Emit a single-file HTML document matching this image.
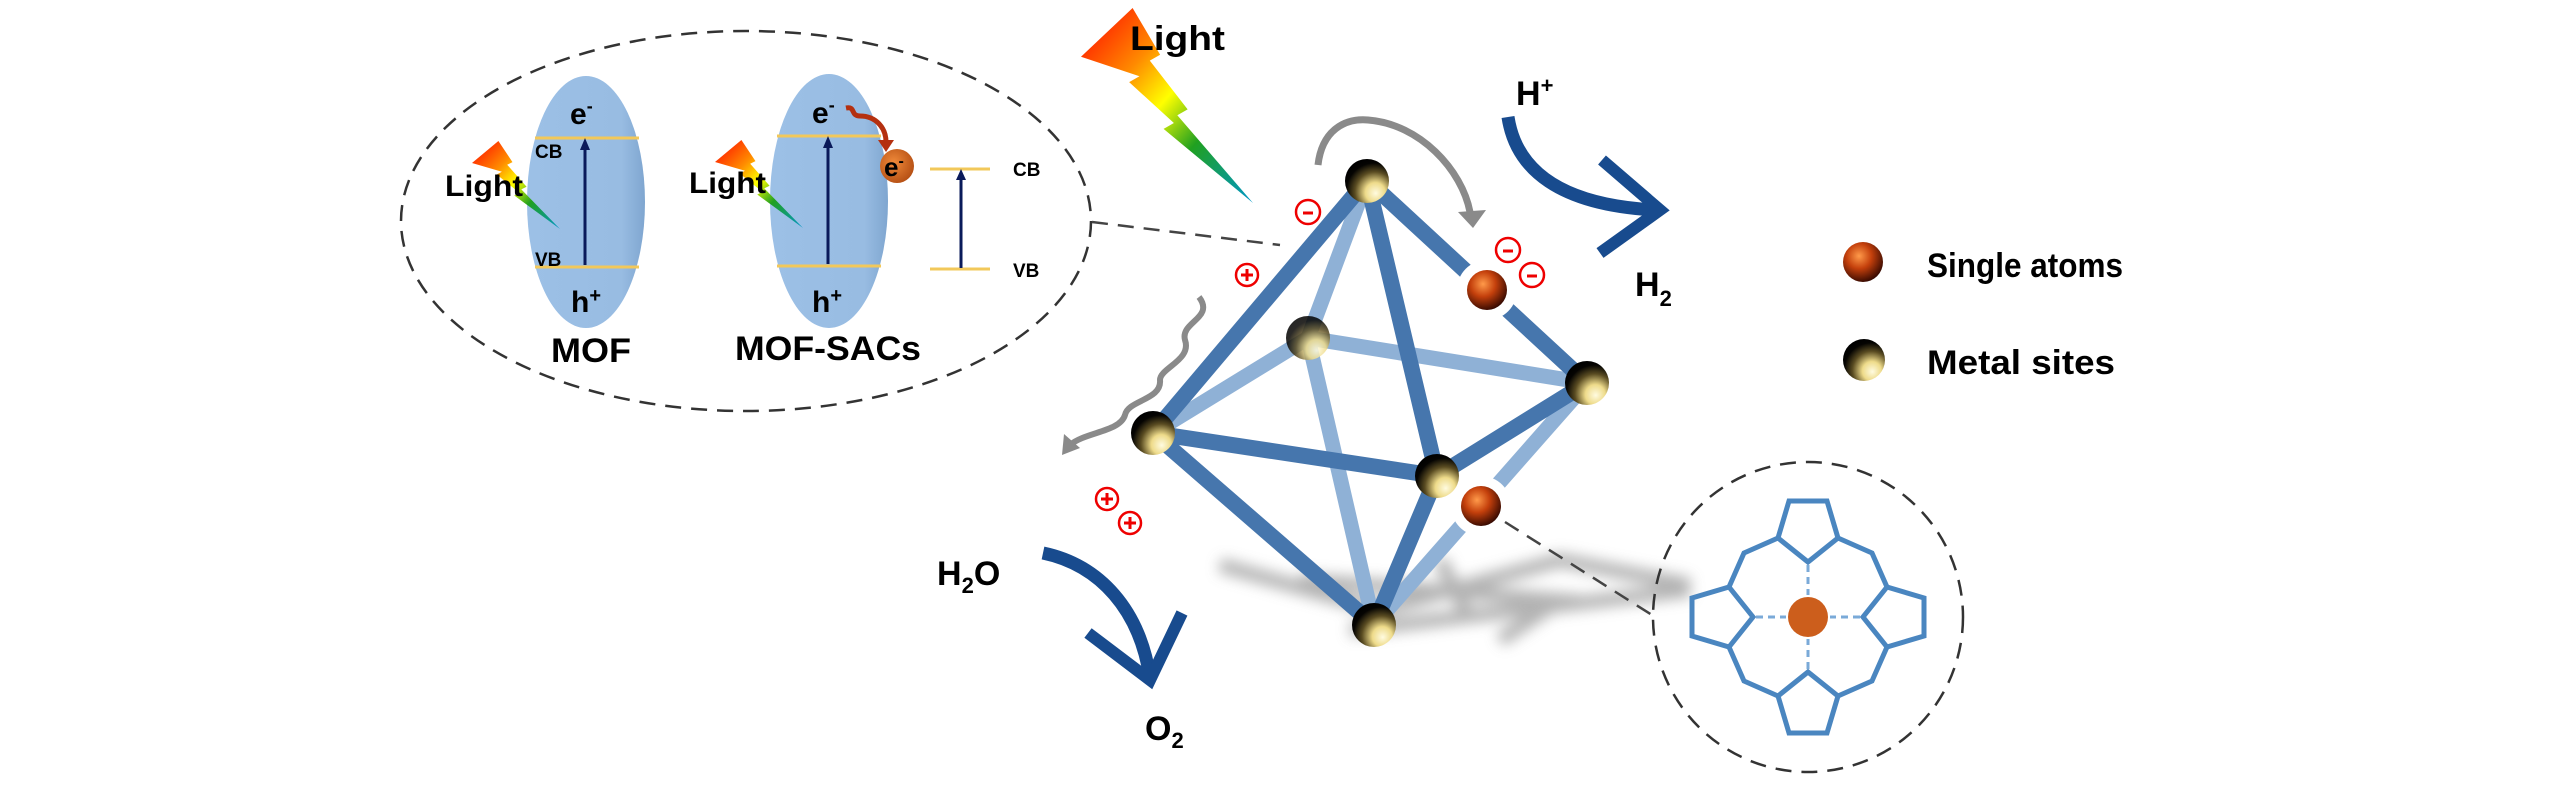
<!DOCTYPE html>
<html><head><meta charset="utf-8">
<style>
html,body{margin:0;padding:0;background:#fff;}
svg{display:block;}
text{font-family:"Liberation Sans",Arial,sans-serif;font-weight:bold;fill:#000;}
</style></head>
<body>
<svg width="2567" height="787" viewBox="0 0 2567 787" xmlns="http://www.w3.org/2000/svg">
<defs>
  <radialGradient id="gold" cx="0.66" cy="0.72" r="0.75" fx="0.7" fy="0.78">
    <stop offset="0" stop-color="#fffbe0"/>
    <stop offset="0.3" stop-color="#eedb8a"/>
    <stop offset="0.6" stop-color="#5a4c22"/>
    <stop offset="0.85" stop-color="#050402"/>
    <stop offset="1" stop-color="#000"/>
  </radialGradient>
  <radialGradient id="sa" cx="0.4" cy="0.35" r="0.7">
    <stop offset="0" stop-color="#ff9a4a"/>
    <stop offset="0.45" stop-color="#c4400c"/>
    <stop offset="1" stop-color="#2a0500"/>
  </radialGradient>
  <radialGradient id="eball" cx="0.4" cy="0.4" r="0.7">
    <stop offset="0" stop-color="#f08a3a"/>
    <stop offset="1" stop-color="#b04a10"/>
  </radialGradient>
  <linearGradient id="bolt" x1="0" y1="0" x2="1" y2="1">
    <stop offset="0" stop-color="#ff0000"/>
    <stop offset="0.3" stop-color="#ff8a00"/>
    <stop offset="0.48" stop-color="#ffff00"/>
    <stop offset="0.68" stop-color="#20a020"/>
    <stop offset="1" stop-color="#0096c8"/>
  </linearGradient>
  <linearGradient id="oval" x1="0" y1="0" x2="1" y2="0">
    <stop offset="0" stop-color="#9cc0e6"/>
    <stop offset="0.8" stop-color="#98bce2"/>
    <stop offset="1" stop-color="#7fa6d0"/>
  </linearGradient>
  <filter id="blur" x="-20%" y="-50%" width="140%" height="200%"><feGaussianBlur stdDeviation="7"/></filter>
  <symbol id="boltS" viewBox="0 0 100 100" preserveAspectRatio="none">
    <polygon points="0,25 30,0 46,24 40,27 62,52 56,55 100,100 48,62 54,59 28,38 34,35" fill="url(#bolt)"/>
  </symbol>
</defs>

<ellipse cx="746" cy="221" rx="345" ry="190" fill="none" stroke="#333" stroke-width="2.5" stroke-dasharray="16,10"/>
<line x1="1092" y1="222" x2="1280" y2="245" stroke="#444" stroke-width="2.5" stroke-dasharray="16,10"/>

<!-- MOF -->
<ellipse cx="586" cy="202" rx="59" ry="126" fill="url(#oval)"/>
<line x1="535" y1="138" x2="639" y2="138" stroke="#f2c85a" stroke-width="3"/>
<line x1="535" y1="267" x2="639" y2="267" stroke="#f2c85a" stroke-width="3"/>
<line x1="585" y1="265" x2="585" y2="148" stroke="#0a1a5a" stroke-width="3"/>
<polygon points="585,138 580,150 590,150" fill="#0a1a5a"/>
<text x="570" y="124" font-size="30">e<tspan font-size="18" dy="-12">-</tspan></text>
<text x="571" y="312" font-size="30">h<tspan font-size="20" dy="-10">+</tspan></text>
<text x="535" y="158" font-size="19">CB</text>
<text x="535" y="266" font-size="19">VB</text>
<use href="#boltS" x="472" y="141" width="88" height="88"/>
<text x="445" y="196" font-size="30" textLength="78" lengthAdjust="spacingAndGlyphs">Light</text>
<text x="551" y="362" font-size="34" textLength="80" lengthAdjust="spacingAndGlyphs">MOF</text>

<!-- MOF-SACs -->
<ellipse cx="829" cy="201" rx="59" ry="127" fill="url(#oval)"/>
<line x1="777" y1="136" x2="881" y2="136" stroke="#f2c85a" stroke-width="3"/>
<line x1="777" y1="266" x2="881" y2="266" stroke="#f2c85a" stroke-width="3"/>
<line x1="828" y1="264" x2="828" y2="146" stroke="#0a1a5a" stroke-width="3"/>
<polygon points="828,136 823,148 833,148" fill="#0a1a5a"/>
<text x="812" y="123" font-size="30">e<tspan font-size="18" dy="-12">-</tspan></text>
<text x="812" y="312" font-size="30">h<tspan font-size="20" dy="-10">+</tspan></text>
<path d="M846,108 C856,106 850,116 860,116 C876,116 886,128 886,142" fill="none" stroke="#b43010" stroke-width="5"/>
<polygon points="878,140 894,140 886,152" fill="#b43010"/>
<circle cx="897" cy="166" r="17" fill="url(#eball)"/>
<text x="884" y="176" font-size="26">e<tspan font-size="16" dy="-10">-</tspan></text>
<line x1="930" y1="169" x2="990" y2="169" stroke="#f2c85a" stroke-width="3"/>
<line x1="930" y1="269" x2="990" y2="269" stroke="#f2c85a" stroke-width="3"/>
<line x1="961" y1="268" x2="961" y2="178" stroke="#0a1a5a" stroke-width="3"/>
<polygon points="961,169 956,180 966,180" fill="#0a1a5a"/>
<text x="1013" y="176" font-size="19">CB</text>
<text x="1013" y="277" font-size="19">VB</text>
<use href="#boltS" x="715" y="140" width="88" height="88"/>
<text x="689" y="193" font-size="30" textLength="77" lengthAdjust="spacingAndGlyphs">Light</text>
<text x="735" y="360" font-size="34" textLength="186" lengthAdjust="spacingAndGlyphs">MOF-SACs</text>

<use href="#boltS" x="1081" y="8" width="172" height="195"/>
<text x="1130" y="50" font-size="34" textLength="95" lengthAdjust="spacingAndGlyphs">Light</text>

<g filter="url(#blur)" stroke="#9a9a9a" stroke-width="14" opacity="0.75" fill="none">
  <path d="M1220,565 L1380,610 L1560,560 L1690,585"/>
  <path d="M1300,580 L1560,600 L1500,640"/>
  <path d="M1350,630 L1690,590"/>
  <path d="M1440,560 L1470,620"/>
</g>

<g stroke="#8fb1d6" stroke-width="15" stroke-linecap="round">
  <line x1="1367" y1="180" x2="1308" y2="338"/>
  <line x1="1308" y1="338" x2="1153" y2="433"/>
  <line x1="1308" y1="338" x2="1587" y2="383"/>
  <line x1="1308" y1="338" x2="1374" y2="625"/>
  <line x1="1587" y1="383" x2="1374" y2="625"/>
</g>
<circle cx="1308" cy="338" r="22" fill="url(#gold)" opacity="0.85"/>
<g stroke="#4676ad" stroke-width="16" stroke-linecap="round">
  <line x1="1367" y1="180" x2="1153" y2="433"/>
  <line x1="1367" y1="180" x2="1437" y2="476"/>
  <line x1="1153" y1="433" x2="1437" y2="476"/>
  <line x1="1437" y1="476" x2="1587" y2="383"/>
  <line x1="1153" y1="433" x2="1374" y2="625"/>
  <line x1="1437" y1="476" x2="1374" y2="625"/>
  <line x1="1367" y1="180" x2="1587" y2="383"/>
</g>
<circle cx="1487" cy="290" r="30" fill="#fff"/>
<circle cx="1481" cy="506" r="30" fill="#fff"/>
<circle cx="1487" cy="290" r="20" fill="url(#sa)"/>
<circle cx="1481" cy="506" r="20" fill="url(#sa)"/>
<g>
  <circle cx="1367" cy="181" r="22" fill="url(#gold)"/>
  <circle cx="1153" cy="433" r="22" fill="url(#gold)"/>
  <circle cx="1587" cy="383" r="22" fill="url(#gold)"/>
  <circle cx="1437" cy="476" r="22" fill="url(#gold)"/>
  <circle cx="1374" cy="625" r="22" fill="url(#gold)"/>
</g>

<path d="M1318,165 C1322,130 1345,118 1368,120 C1420,124 1462,170 1470,212" fill="none" stroke="#8a8a8a" stroke-width="7"/>
<polygon points="1458,212 1486,210 1473,228" fill="#8a8a8a"/>
<path d="M1199,297 C1215,318 1180,322 1185,340 C1192,360 1160,368 1160,380 C1162,400 1128,400 1125,415 C1120,432 1085,432 1070,445" fill="none" stroke="#8a8a8a" stroke-width="6"/>
<polygon points="1062,455 1064,434 1080,448" fill="#8a8a8a"/>

<g fill="none" stroke="#e00" stroke-width="2.5">
  <circle cx="1308" cy="212" r="12"/>
  <circle cx="1508" cy="250" r="12"/>
  <circle cx="1532" cy="275" r="12"/>
  <circle cx="1247" cy="275" r="11"/>
  <circle cx="1107" cy="499" r="11"/>
  <circle cx="1130" cy="523" r="11"/>
</g>
<g stroke="#e00" stroke-width="3">
  <line x1="1303" y1="213" x2="1313" y2="213"/>
  <line x1="1503" y1="251" x2="1513" y2="251"/>
  <line x1="1527" y1="276" x2="1537" y2="276"/>
  <line x1="1241" y1="275" x2="1253" y2="275"/><line x1="1247" y1="269" x2="1247" y2="281"/>
  <line x1="1101" y1="499" x2="1113" y2="499"/><line x1="1107" y1="493" x2="1107" y2="505"/>
  <line x1="1124" y1="523" x2="1136" y2="523"/><line x1="1130" y1="517" x2="1130" y2="529"/>
</g>

<path d="M1508,117 C1516,170 1560,205 1655,210" fill="none" stroke="#184b8e" stroke-width="13"/>
<path d="M1602,160 L1660,210 L1600,253" fill="none" stroke="#184b8e" stroke-width="12"/>
<path d="M1043,553 C1100,565 1140,610 1150,678" fill="none" stroke="#184b8e" stroke-width="13"/>
<path d="M1088,633 L1150,680 L1182,613" fill="none" stroke="#184b8e" stroke-width="12"/>

<text x="1516" y="105" font-size="34">H<tspan font-size="22" dy="-12">+</tspan></text>
<text x="1635" y="296" font-size="34">H<tspan font-size="22" dy="10">2</tspan></text>
<text x="937" y="585" font-size="34">H<tspan font-size="22" dy="8">2</tspan><tspan dy="-8">O</tspan></text>
<text x="1145" y="740" font-size="34">O<tspan font-size="22" dy="8">2</tspan></text>

<circle cx="1863" cy="262" r="20" fill="url(#sa)"/>
<text x="1927" y="277" font-size="34" textLength="196" lengthAdjust="spacingAndGlyphs">Single atoms</text>
<circle cx="1864" cy="360" r="21" fill="url(#gold)"/>
<text x="1927" y="374" font-size="34" textLength="188" lengthAdjust="spacingAndGlyphs">Metal sites</text>

<line x1="1505" y1="522" x2="1652" y2="615" stroke="#444" stroke-width="2.5" stroke-dasharray="16,10"/>
<circle cx="1808" cy="617" r="155" fill="none" stroke="#333" stroke-width="2.5" stroke-dasharray="16,10"/>
<g transform="translate(1808,617)" fill="none" stroke="#4a86c0" stroke-width="5" stroke-linejoin="miter">
  <g id="q">
    <polygon points="-19,-116 19,-116 30,-79 0,-55 -30,-79"/>
    <polyline points="-30,-79 -64,-64 -79,-30"/>
    <line x1="0" y1="-52" x2="0" y2="-22" stroke="#7aaad8" stroke-width="3" stroke-dasharray="7,5"/>
  </g>
  <use href="#q" transform="rotate(90)"/>
  <use href="#q" transform="rotate(180)"/>
  <use href="#q" transform="rotate(270)"/>
</g>
<circle cx="1808" cy="617" r="20" fill="#cc5e1c"/>
</svg>
</body></html>
